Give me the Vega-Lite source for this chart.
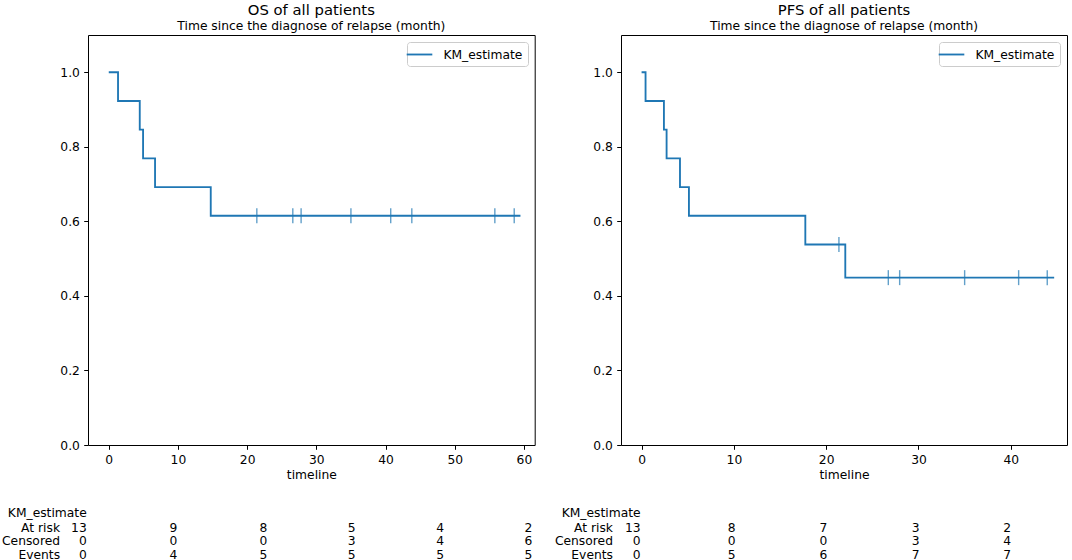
{
  "$schema": "https://vega.github.io/schema/vega-lite/v6.json",
  "padding": {"left": 1, "top": 2, "right": 2, "bottom": 0},
  "datasets": {
    "os_curve": [
      {"t": 0, "s": 1.0}, {"t": 1.34, "s": 0.923}, {"t": 4.48, "s": 0.846},
      {"t": 4.96, "s": 0.769}, {"t": 6.69, "s": 0.692}, {"t": 14.74, "s": 0.615},
      {"t": 59.5, "s": 0.615}
    ],
    "os_cens": [
      {"t": 21.4, "s": 0.615}, {"t": 26.6, "s": 0.615}, {"t": 27.8, "s": 0.615},
      {"t": 35.0, "s": 0.615}, {"t": 40.75, "s": 0.615}, {"t": 43.8, "s": 0.615},
      {"t": 55.8, "s": 0.615}, {"t": 58.6, "s": 0.615}
    ],
    "os_table": [
      {"kind": "first", "t": -3.18, "y": -0.1834, "txt": "KM_estimate"},
      {"kind": "label", "t": -7.04, "y": -0.2217, "txt": "At risk"},
      {"kind": "label", "t": -7.04, "y": -0.2585, "txt": "Censored"},
      {"kind": "label", "t": -7.04, "y": -0.2945, "txt": "Events"},
      {"kind": "first", "t": -3.18, "y": -0.2217, "txt": "13"},
      {"kind": "first", "t": -3.18, "y": -0.2585, "txt": "0"},
      {"kind": "first", "t": -3.18, "y": -0.2945, "txt": "0"},
      {"kind": "count", "t": 9.35, "y": -0.2217, "txt": "9"},
      {"kind": "count", "t": 9.35, "y": -0.2585, "txt": "0"},
      {"kind": "count", "t": 9.35, "y": -0.2945, "txt": "4"},
      {"kind": "count", "t": 22.36, "y": -0.2217, "txt": "8"},
      {"kind": "count", "t": 22.36, "y": -0.2585, "txt": "0"},
      {"kind": "count", "t": 22.36, "y": -0.2945, "txt": "5"},
      {"kind": "count", "t": 35.1, "y": -0.2217, "txt": "5"},
      {"kind": "count", "t": 35.1, "y": -0.2585, "txt": "3"},
      {"kind": "count", "t": 35.1, "y": -0.2945, "txt": "5"},
      {"kind": "count", "t": 47.9, "y": -0.2217, "txt": "4"},
      {"kind": "count", "t": 47.9, "y": -0.2585, "txt": "4"},
      {"kind": "count", "t": 47.9, "y": -0.2945, "txt": "5"},
      {"kind": "count", "t": 60.65, "y": -0.2217, "txt": "2"},
      {"kind": "count", "t": 60.65, "y": -0.2585, "txt": "6"},
      {"kind": "count", "t": 60.65, "y": -0.2945, "txt": "5"}
    ],
    "pfs_curve": [
      {"t": 0, "s": 1.0}, {"t": 0.43, "s": 0.923}, {"t": 2.42, "s": 0.846},
      {"t": 2.71, "s": 0.769}, {"t": 4.16, "s": 0.692}, {"t": 5.13, "s": 0.615},
      {"t": 17.74, "s": 0.538}, {"t": 22.07, "s": 0.449}, {"t": 44.7, "s": 0.449}
    ],
    "pfs_cens": [
      {"t": 21.38, "s": 0.538}, {"t": 26.73, "s": 0.449}, {"t": 27.96, "s": 0.449},
      {"t": 35.0, "s": 0.449}, {"t": 40.85, "s": 0.449}, {"t": 43.95, "s": 0.449}
    ],
    "pfs_table": [
      {"kind": "first", "t": -0.11, "y": -0.1834, "txt": "KM_estimate"},
      {"kind": "label", "t": -3.1, "y": -0.2217, "txt": "At risk"},
      {"kind": "label", "t": -3.1, "y": -0.2585, "txt": "Censored"},
      {"kind": "label", "t": -3.1, "y": -0.2945, "txt": "Events"},
      {"kind": "first", "t": -0.11, "y": -0.2217, "txt": "13"},
      {"kind": "first", "t": -0.11, "y": -0.2585, "txt": "0"},
      {"kind": "first", "t": -0.11, "y": -0.2945, "txt": "0"},
      {"kind": "count", "t": 9.75, "y": -0.2217, "txt": "8"},
      {"kind": "count", "t": 9.75, "y": -0.2585, "txt": "0"},
      {"kind": "count", "t": 9.75, "y": -0.2945, "txt": "5"},
      {"kind": "count", "t": 19.7, "y": -0.2217, "txt": "7"},
      {"kind": "count", "t": 19.7, "y": -0.2585, "txt": "0"},
      {"kind": "count", "t": 19.7, "y": -0.2945, "txt": "6"},
      {"kind": "count", "t": 29.7, "y": -0.2217, "txt": "3"},
      {"kind": "count", "t": 29.7, "y": -0.2585, "txt": "3"},
      {"kind": "count", "t": 29.7, "y": -0.2945, "txt": "7"},
      {"kind": "count", "t": 39.6, "y": -0.2217, "txt": "2"},
      {"kind": "count", "t": 39.6, "y": -0.2585, "txt": "4"},
      {"kind": "count", "t": 39.6, "y": -0.2945, "txt": "7"}
    ]
  },
  "spacing": 18,
  "hconcat": [
    {
      "width": 446.7,
      "height": 410,
      "title": {"text": "OS of all patients", "subtitle": "Time since the diagnose of relapse (month)"},
      "layer": [
        {
          "data": {"name": "os_curve"},
          "mark": {"type": "line", "interpolate": "step-after", "strokeWidth": 1.85},
          "encoding": {
            "x": {"field": "t", "type": "quantitative", "title": "timeline",
              "scale": {"domain": [-3, 61.56], "nice": false, "zero": false},
              "axis": {"values": [0, 10, 20, 30, 40, 50, 60], "labelFlush": false}},
            "y": {"field": "s", "type": "quantitative", "title": null,
              "scale": {"domain": [0, 1.1], "nice": false},
              "axis": {"values": [0, 0.2, 0.4, 0.6, 0.8, 1.0], "format": ".1f"}},
            "color": {"datum": "KM_estimate", "scale": {"range": ["#1f77b4"]}, "legend": {"title": null}}
          }
        },
        {
          "data": {"name": "os_cens"},
          "mark": {"type": "tick", "orient": "vertical", "size": 15, "thickness": 1.4, "color": "#1f77b4"},
          "encoding": {
            "x": {"field": "t", "type": "quantitative"},
            "y": {"field": "s", "type": "quantitative"}
          }
        },
        {
          "data": {"name": "os_table"},
          "transform": [{"filter": "datum.kind !== 'count'"}],
          "mark": {"type": "text", "align": "right", "baseline": "middle"},
          "encoding": {
            "x": {"field": "t", "type": "quantitative"},
            "y": {"field": "y", "type": "quantitative"},
            "text": {"field": "txt"}
          }
        },
        {
          "data": {"name": "os_table"},
          "transform": [{"filter": "datum.kind === 'count'"}],
          "mark": {"type": "text", "align": "center", "baseline": "middle"},
          "encoding": {
            "x": {"field": "t", "type": "quantitative"},
            "y": {"field": "y", "type": "quantitative"},
            "text": {"field": "txt"}
          }
        }
      ]
    },
    {
      "width": 446,
      "height": 410,
      "title": {"text": "PFS of all patients", "subtitle": "Time since the diagnose of relapse (month)"},
      "layer": [
        {
          "data": {"name": "pfs_curve"},
          "mark": {"type": "line", "interpolate": "step-after", "strokeWidth": 1.85},
          "encoding": {
            "x": {"field": "t", "type": "quantitative", "title": "timeline",
              "scale": {"domain": [-2.23, 46.09], "nice": false, "zero": false},
              "axis": {"values": [0, 10, 20, 30, 40], "labelFlush": false}},
            "y": {"field": "s", "type": "quantitative", "title": null,
              "scale": {"domain": [0, 1.1], "nice": false},
              "axis": {"values": [0, 0.2, 0.4, 0.6, 0.8, 1.0], "format": ".1f"}},
            "color": {"datum": "KM_estimate", "scale": {"range": ["#1f77b4"]}, "legend": {"title": null}}
          }
        },
        {
          "data": {"name": "pfs_cens"},
          "mark": {"type": "tick", "orient": "vertical", "size": 15, "thickness": 1.4, "color": "#1f77b4"},
          "encoding": {
            "x": {"field": "t", "type": "quantitative"},
            "y": {"field": "s", "type": "quantitative"}
          }
        },
        {
          "data": {"name": "pfs_table"},
          "transform": [{"filter": "datum.kind !== 'count'"}],
          "mark": {"type": "text", "align": "right", "baseline": "middle"},
          "encoding": {
            "x": {"field": "t", "type": "quantitative"},
            "y": {"field": "y", "type": "quantitative"},
            "text": {"field": "txt"}
          }
        },
        {
          "data": {"name": "pfs_table"},
          "transform": [{"filter": "datum.kind === 'count'"}],
          "mark": {"type": "text", "align": "center", "baseline": "middle"},
          "encoding": {
            "x": {"field": "t", "type": "quantitative"},
            "y": {"field": "y", "type": "quantitative"},
            "text": {"field": "txt"}
          }
        }
      ]
    }
  ],
  "resolve": {"scale": {"color": "independent"}, "legend": {"color": "independent"}},
  "config": {
    "font": "DejaVu Sans",
    "background": "white",
    "view": {"stroke": "black", "strokeWidth": 1},
    "axis": {
      "domain": false, "grid": false,
      "tickColor": "black", "tickSize": 4.3, "tickWidth": 1,
      "labelColor": "black", "labelFontSize": 12.3, "labelPadding": 4.3, "labelOverlap": false,
      "titleColor": "black", "titleFontSize": 12.3, "titleFontWeight": "normal", "titlePadding": 3
    },
    "title": {
      "fontSize": 14.8, "fontWeight": "normal", "color": "black",
      "subtitleFontSize": 12.3, "subtitleColor": "black", "subtitlePadding": 2, "offset": 3
    },
    "legend": {
      "orient": "top-right", "offset": 6.7, "padding": 5,
      "fillColor": "rgba(255,255,255,0.8)", "strokeColor": "#cccccc", "cornerRadius": 3,
      "symbolType": "M-2,0L2,0", "symbolSize": 164, "symbolStrokeWidth": 1.85,
      "labelFontSize": 12.3, "labelColor": "black", "labelOffset": 16.4
    },
    "text": {"fontSize": 12.3, "color": "black"}
  }
}
